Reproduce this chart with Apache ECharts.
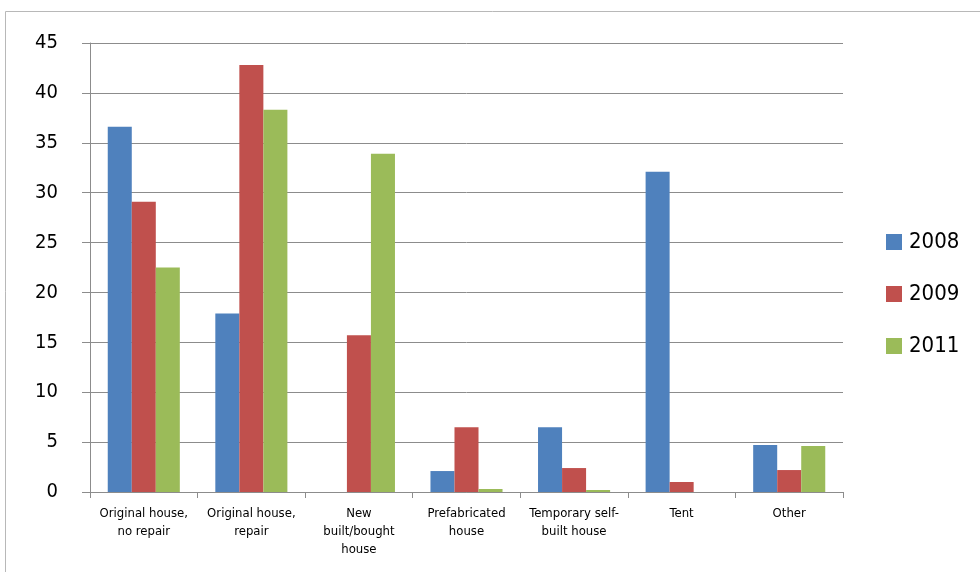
<!DOCTYPE html>
<html>
<head>
<meta charset="utf-8">
<style>
  html, body { margin: 0; padding: 0; background: #fff; }
  #chart { width: 980px; height: 572px; }
</style>
<script src="https://cdn.jsdelivr.net/npm/echarts@6/dist/echarts.min.js"></script>
</head>
<body>
<div id="chart"></div>
<script>
// Housing situation by year (percent of households)
const categories = [
  'Original house,\nno repair',
  'Original house,\nrepair',
  'New\nbuilt/bought\nhouse',
  'Prefabricated\nhouse',
  'Temporary self-\nbuilt house',
  'Tent',
  'Other'
];
const years = ['2008', '2009', '2011'];
const values2008 = [36.6, 17.9, 0, 2.1, 6.5, 32.1, 4.7];
const values2009 = [29.1, 42.8, 15.7, 6.5, 2.4, 1.0, 2.2];
const values2011 = [22.5, 38.3, 33.9, 0.3, 0.2, 0, 4.6];
const colors = ['#4F81BD', '#C0504D', '#9BBB59'];

const FONT = '"Liberation Sans Narrow", "DejaVu Sans Condensed", "Open Sans", sans-serif';

const chart = echarts.init(document.getElementById('chart'), null, { renderer: 'canvas' });
const seriesData = [values2008, values2009, values2011];

chart.setOption({
  animation: false,
  textStyle: { fontFamily: FONT },
  graphic: [{
    type: 'polyline',
    shape: { points: [[5.5, 572], [5.5, 11.5], [980, 11.5]] },
    style: { stroke: '#b8b8b8', lineWidth: 1, fill: null }
  }],
  grid: { left: 90, right: 137, top: 43, bottom: 80, containLabel: false },
  legend: {
    orient: 'vertical',
    left: 881,
    top: 226,
    itemWidth: 16,
    itemHeight: 16,
    itemGap: 30,
    icon: 'rect',
    textStyle: { fontSize: 22, color: '#000', fontFamily: FONT, padding: [0, 0, 0, 2] },
    data: years
  },
  xAxis: {
    type: 'category',
    data: categories,
    axisLine: { lineStyle: { color: '#8c8c8c', width: 1 } },
    axisTick: { show: true, alignWithLabel: false, length: 6, lineStyle: { color: '#8c8c8c' } },
    axisLabel: {
      interval: 0,
      color: '#000',
      fontSize: 13,
      lineHeight: 18,
      margin: 13,
      fontFamily: FONT
    }
  },
  yAxis: {
    type: 'value',
    min: 0,
    max: 45,
    interval: 5,
    axisLine: { show: true, lineStyle: { color: '#8c8c8c', width: 1 } },
    axisTick: { show: true, length: 8, lineStyle: { color: '#8c8c8c' } },
    splitLine: { lineStyle: { color: '#8c8c8c', width: 1 } },
    axisLabel: { color: '#000', fontSize: 20, margin: 32, fontFamily: FONT }
  },
  series: years.map((y, i) => ({
    name: y,
    type: 'bar',
    data: seriesData[i],
    barGap: '0%',
    barCategoryGap: '33%',
    itemStyle: { color: colors[i] }
  }))
});
</script>
</body>
</html>
